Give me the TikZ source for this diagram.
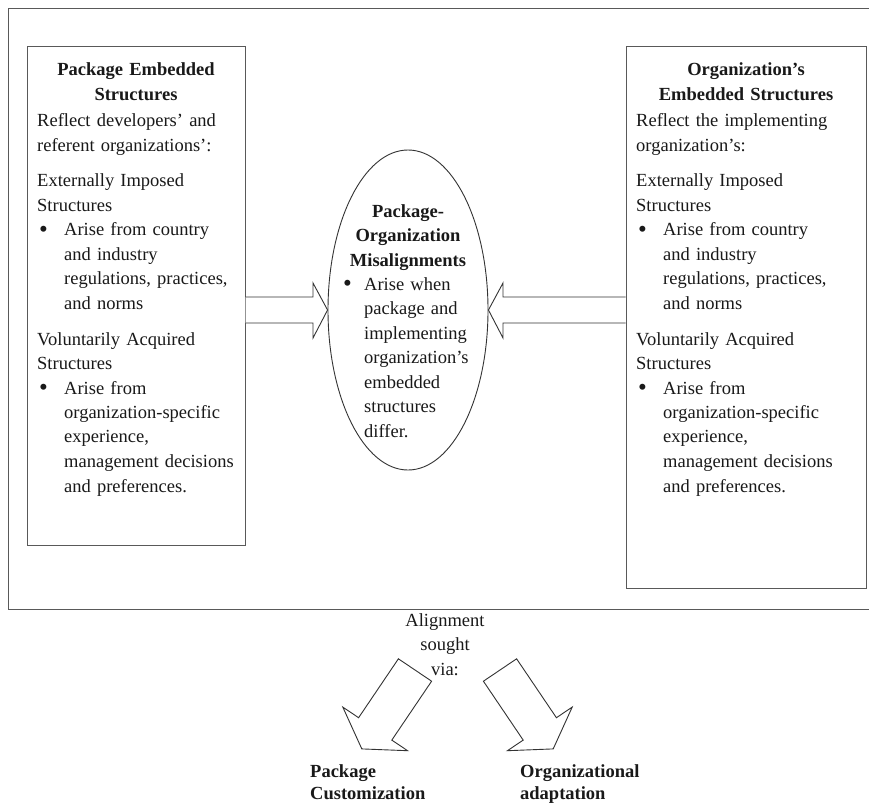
\documentclass[tikz,border=0pt]{standalone}
\usepackage{fontspec}
\setmainfont{Liberation Serif}
\usetikzlibrary{shapes.geometric}
\newcommand\bigbul{\raisebox{-1.2pt}{\fontsize{25}{24.5}\selectfont\textbullet}}
\newcommand\mybul{\hspace*{2pt}\makebox[25pt][l]{\bigbul}}
\newcommand\myind{\hspace*{27pt}}
\newcommand\ebul{\makebox[21pt][l]{\bigbul}}
\newcommand\eind{\hspace*{21pt}}
\begin{document}
\begin{tikzpicture}[x=1pt,y=-1pt,
  frame/.style={draw=black!65, line width=1pt},
  boxnode/.style={draw=black!65, line width=1pt, rectangle, inner sep=0pt},
  txt/.style={font=\fontsize{18.5}{24.5}\selectfont, text=black!90, inner sep=0pt, text width=#1, align=left},
  hdr/.style={font=\fontsize{18.5}{24.5}\selectfont\bfseries, text=black!90, inner sep=0pt, text width=#1, align=center},
  blk/.style={draw=black!80, line width=0.9pt, fill=white, line join=miter}]
\useasboundingbox (0,0) rectangle (869,805);
\fill[white] (0,0) rectangle (869,805);
% outer frame
\draw[frame] (875,9) -- (8,9) -- (8,609) -- (875,609);
% boxes
\node[boxnode, minimum width=218pt, minimum height=498pt] (lbox) at (136,296) {};
\node[boxnode, minimum width=240pt, minimum height=541pt] (rbox) at (746,317.5) {};
\node[draw=black!80, line width=0.9pt, ellipse, inner sep=0pt, minimum width=160pt, minimum height=320pt] (ell) at (408,310) {};
% left box text
\node[hdr=210pt, anchor=base] (lhead) at (136,76) {Package Embedded\\Structures};
\node[txt=220pt, anchor=base west] (lbody) at (37,127) {Reflect developers’ and\\referent organizations’:\\[11pt]Externally Imposed\\Structures\\\mybul Arise from country\\\myind and industry\\\myind regulations, practices,\\\myind and norms\\[11pt]Voluntarily Acquired\\Structures\\\mybul Arise from\\\myind organization-specific\\\myind experience,\\\myind management decisions\\\myind and preferences.};
% right box text
\node[hdr=230pt, anchor=base] (rhead) at (746,76) {Organization’s\\Embedded Structures};
\node[txt=225pt, anchor=base west] (rbody) at (636,127) {Reflect the implementing\\organization’s:\\[11pt]Externally Imposed\\Structures\\\mybul Arise from country\\\myind and industry\\\myind regulations, practices,\\\myind and norms\\[11pt]Voluntarily Acquired\\Structures\\\mybul Arise from\\\myind organization-specific\\\myind experience,\\\myind management decisions\\\myind and preferences.};
% ellipse text
\node[hdr=150pt, anchor=base] (ehead) at (408,217) {Package-\\Organization\\Misalignments};
\node[txt=150pt, anchor=base west] (ebody) at (343,290) {\ebul Arise when\\\eind package and\\\eind implementing\\\eind organization’s\\\eind embedded\\\eind structures\\\eind differ.};
% horizontal block arrows
\draw[blk] (lbox.east |- 0,297) -- (313,297) -- (313,283) -- (ell.west) -- (313,338) -- (313,323) -- (lbox.east |- 0,323);
\draw[blk] (rbox.west |- 0,297) -- (503,297) -- (503,283) -- (ell.east) -- (503,338) -- (503,323) -- (rbox.west |- 0,323);
% bottom
\node[txt=140pt, align=center, anchor=base] (sought) at (445,626) {Alignment\\sought\\via:};
\draw[blk] (398.4,658.8) -- (431.6,681.2) -- (391.8,740.1) -- (407.6,750.7) -- (361.8,748.9) -- (342.8,707.1) -- (358.6,717.7) -- cycle;
\draw[blk] (483.4,681.2) -- (516.6,658.8) -- (556.4,717.7) -- (572.2,707.1) -- (553.2,748.9) -- (507.4,750.7) -- (523.2,740.1) -- cycle;
\node[hdr=160pt, align=left, anchor=base west, font=\fontsize{18.5}{22}\selectfont\bfseries] (pcust) at (310,777) {Package\\Customization};
\node[hdr=160pt, align=left, anchor=base west, font=\fontsize{18.5}{22}\selectfont\bfseries] (oadapt) at (520,777) {Organizational\\adaptation};
\end{tikzpicture}
\end{document}
